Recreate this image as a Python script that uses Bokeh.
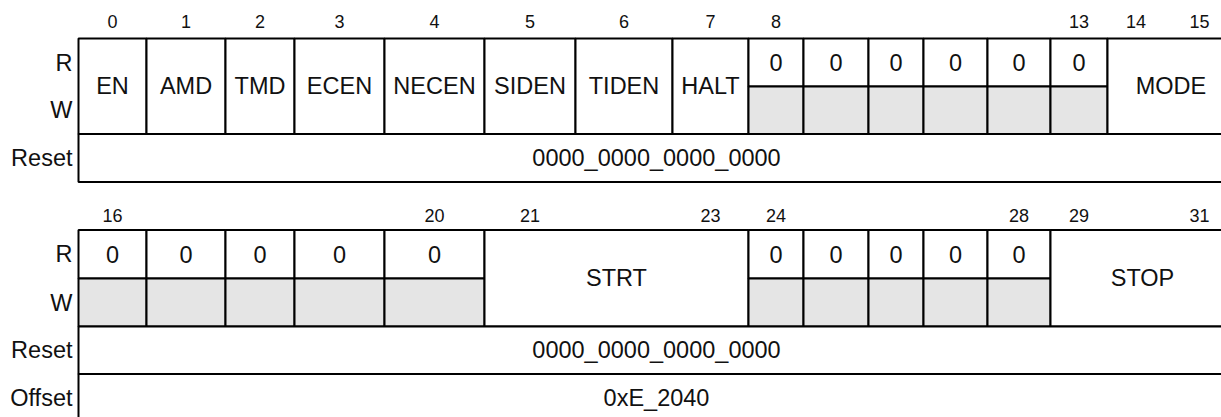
from bokeh.plotting import figure
from bokeh.models import Range1d, ColumnDataSource
from bokeh.core.properties import value
from bokeh.embed import file_html
from bokeh.resources import INLINE

# ---------------- data ----------------
RSV = None  # reserved (read-as-zero) field
lo_names = ["EN", "AMD", "TMD", "ECEN", "NECEN", "SIDEN", "TIDEN", "HALT", RSV, "MODE"]
lo_lsb = [0, 1, 2, 3, 4, 5, 6, 7, 8, 14]
lo_msb = [0, 1, 2, 3, 4, 5, 6, 7, 13, 15]

hi_names = [RSV, "STRT", RSV, "STOP"]
hi_lsb = [16, 21, 24, 29]
hi_msb = [20, 23, 28, 31]

reserved_read = "0"
reset_values = ["0000_0000_0000_0000", "0000_0000_0000_0000"]
offset_value = "0xE_2040"
row_labels = ["R", "W", "Reset", "Offset"]

# ---------------- layout (image pixel coordinates) ----------------
COL_EDGES = [78, 146, 225, 294, 384, 484, 575, 672, 748, 803, 868, 923, 987,
             1050, 1107, 1164, 1234]
SECTIONS = [
    # (bit label y, top, r/w split, r/w bottom, reset bottom, offset bottom)
    dict(lab=21, top=38, mid=86, rwb=133.5, rsb=181.5, ofb=None),
    dict(lab=215, top=229.5, mid=278, rwb=326, rsb=373.5, ofb=421.5),
]
GREY = "#e5e5e5"
FONT = value("Liberation Sans")
BIG = "23.5px"
SMALL = "18px"
LW = 2

p = figure(width=1221, height=417, x_range=Range1d(0, 1221), y_range=Range1d(417, 0),
           output_backend="svg", toolbar_location=None, x_axis_type=None,
           y_axis_type=None, min_border=0, outline_line_color=None,
           background_fill_color="white", border_fill_color="white")
p.grid.visible = False

quads = dict(left=[], right=[], top=[], bottom=[], fill=[])
big_txt = dict(x=[], y=[], t=[])
small_txt = dict(x=[], y=[], t=[])
lab_txt = dict(x=[], y=[], t=[])


def col_left(bit):
    return COL_EDGES[bit % 16]


def col_right(bit):
    return COL_EDGES[bit % 16 + 1]


def add_quad(l, r, t, b, fill):
    quads["left"].append(l); quads["right"].append(r)
    quads["top"].append(t); quads["bottom"].append(b)
    quads["fill"].append(fill)


regs = [(lo_names, lo_lsb, lo_msb), (hi_names, hi_lsb, hi_msb)]
for si, ((names, lsbs, msbs), sec) in enumerate(zip(regs, SECTIONS)):
    for name, lsb, msb in zip(names, lsbs, msbs):
        # bit number labels
        for b in sorted({lsb, msb}):
            small_txt["x"].append((col_left(b) + col_right(b)) / 2)
            small_txt["y"].append(sec["lab"])
            small_txt["t"].append(str(b))
        if name is RSV:
            for b in range(lsb, msb + 1):
                add_quad(col_left(b), col_right(b), sec["top"], sec["mid"], "white")
                add_quad(col_left(b), col_right(b), sec["mid"], sec["rwb"], GREY)
                big_txt["x"].append((col_left(b) + col_right(b)) / 2)
                big_txt["y"].append((sec["top"] + sec["mid"]) / 2)
                big_txt["t"].append(reserved_read)
        else:
            add_quad(col_left(lsb), col_right(msb), sec["top"], sec["rwb"], "white")
            big_txt["x"].append((col_left(lsb) + col_right(msb)) / 2)
            big_txt["y"].append((sec["top"] + sec["rwb"]) / 2)
            big_txt["t"].append(name)
    # reset row
    add_quad(COL_EDGES[0], COL_EDGES[-1], sec["rwb"], sec["rsb"], "white")
    big_txt["x"].append((COL_EDGES[0] + COL_EDGES[-1]) / 2)
    big_txt["y"].append((sec["rwb"] + sec["rsb"]) / 2)
    big_txt["t"].append(reset_values[si])
    # row labels
    ys = [(sec["top"] + sec["mid"]) / 2, (sec["mid"] + sec["rwb"]) / 2,
          (sec["rwb"] + sec["rsb"]) / 2]
    labs = row_labels[:3]
    if sec["ofb"] is not None:
        add_quad(COL_EDGES[0], COL_EDGES[-1], sec["rsb"], sec["ofb"], "white")
        big_txt["x"].append((COL_EDGES[0] + COL_EDGES[-1]) / 2)
        big_txt["y"].append((sec["rsb"] + sec["ofb"]) / 2)
        big_txt["t"].append(offset_value)
        ys.append((sec["rsb"] + sec["ofb"]) / 2)
        labs = row_labels[:4]
    for yy, tt in zip(ys, labs):
        lab_txt["x"].append(COL_EDGES[0] - 6)
        lab_txt["y"].append(yy)
        lab_txt["t"].append(tt)

p.quad(left="left", right="right", top="top", bottom="bottom", fill_color="fill",
       line_color="black", line_width=LW, source=ColumnDataSource(quads))

p.text(x="x", y="y", text="t", source=ColumnDataSource(big_txt), text_font=FONT,
       text_font_size=BIG, text_align="center", text_baseline="middle",
       text_color="#111111")
p.text(x="x", y="y", text="t", source=ColumnDataSource(small_txt), text_font=FONT,
       text_font_size=SMALL, text_align="center", text_baseline="middle",
       text_color="#111111")
p.text(x="x", y="y", text="t", source=ColumnDataSource(lab_txt), text_font=FONT,
       text_font_size=BIG, text_align="right", text_baseline="middle",
       text_color="#111111")

open("out.html", "w").write(file_html(p, INLINE))
